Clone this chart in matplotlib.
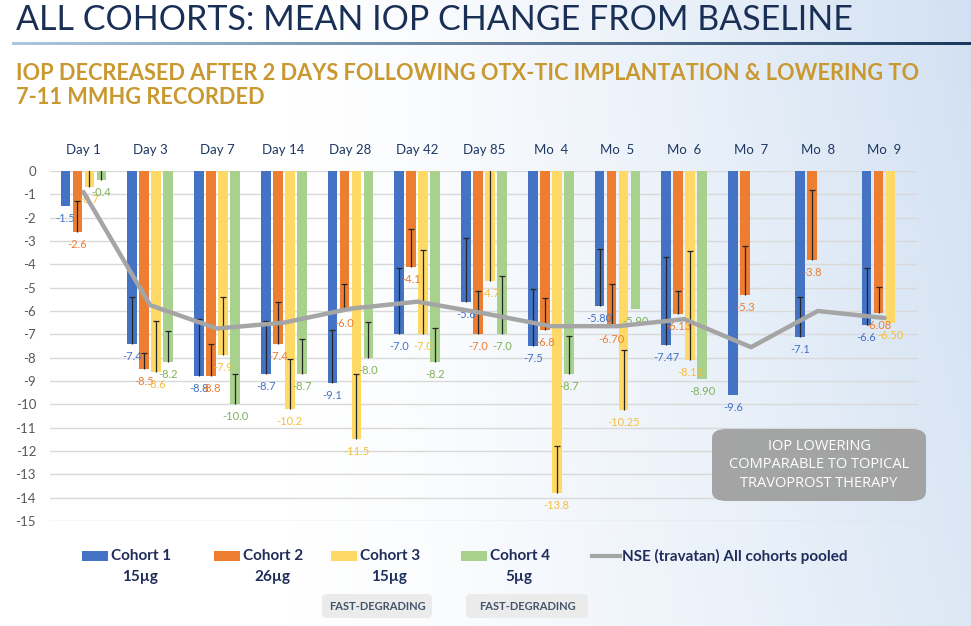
import numpy as np
import matplotlib.pyplot as plt
from matplotlib.patches import Rectangle, FancyBboxPatch
from matplotlib.lines import Line2D

plt.rcParams['axes.unicode_minus'] = False

visits = ['Day 1', 'Day 3', 'Day 7', 'Day 14', 'Day 28', 'Day 42', 'Day 85',
          'Mo  4', 'Mo  5', 'Mo  6', 'Mo  7', 'Mo  8', 'Mo  9']
nan = np.nan

# mean IOP change from baseline (mmHg)
cohort1 = [-1.5, -7.4, -8.8, -8.7, -9.1, -7.0, -5.6, -7.5, -5.80, -7.47, -9.6, -7.1, -6.6]
cohort2 = [-2.6, -8.5, -8.8, -7.4, -6.0, -4.1, -7.0, -6.8, -6.70, -6.13, -5.3, -3.8, -6.08]
cohort3 = [-0.7, -8.6, -7.9, -10.2, -11.5, -7.0, -4.7, -13.8, -10.25, -8.11, nan, nan, -6.50]
cohort4 = [-0.4, -8.2, -10.0, -8.7, -8.0, -8.2, -7.0, -8.7, -5.90, -8.90, nan, nan, nan]

# error bar length (drawn toward zero)
err1 = [0, 2.0, 2.45, 2.27, 2.3, 2.83, 2.74, 2.43, 2.44, 3.8, 0, 1.7, 2.43]
err2 = [1.3, 0.7, 1.4, 1.8, 1.16, 1.6, 1.86, 1.37, 1.84, 1.0, 2.1, 3.0, 1.1]
err3 = [0.8, 2.15, 2.5, 2.15, 2.8, 3.6, 5.0, 2.0, 2.6, 4.7, nan, nan, 0]
err4 = [0.5, 1.35, 1.3, 1.5, 1.54, 1.47, 2.5, 1.64, 0, 0, nan, nan, nan]

lab1 = ['-1.5', '-7.4', '-8.8', '-8.7', '-9.1', '-7.0', '-5.6', '-7.5', '-5.80', '-7.47', '-9.6', '-7.1', '-6.6']
lab2 = ['-2.6', '-8.5', '-8.8', '-7.4', '-6.0', '-4.1', '-7.0', '-6.8', '-6.70', '-6.13', '-5.3', '-3.8', '-6.08']
lab3 = ['-0.7', '-8.6', '-7.9', '-10.2', '-11.5', '-7.0', '-4.7', '-13.8', '-10.25', '-8.11', '', '', '-6.50']
lab4 = ['-0.4', '-8.2', '-10.0', '-8.7', '-8.0', '-8.2', '-7.0', '-8.7', '-5.90', '-8.90', '', '', '']

# NSE (travatan) all cohorts pooled
nse = [-0.9, -5.75, -6.75, -6.5, -5.9, -5.6, -6.1, -6.65, -6.65, -6.35, -7.55, -6.0, -6.3]

names = ['Cohort 1', 'Cohort 2', 'Cohort 3', 'Cohort 4']
doses = ['15µg', '26µg', '15µg', '5µg']
bar_colors = ['#4472C4', '#ED7D31', '#FFD966', '#A9D18E']
text_colors = ['#4472C4', '#ED7D31', '#F5BF3C', '#7FB05A']

W, H = 971, 626
fig = plt.figure(figsize=(W / 100, H / 100), dpi=100)

def fx(px):
    return px / W

def fy(py):
    return 1 - py / H

# background gradient
bg = fig.add_axes([0, 0, 1, 1], zorder=-10)
xx = np.linspace(0, 1, 300)
yy = np.linspace(0, 1, 200)
X, Y = np.meshgrid(xx, yy)
t = np.clip((X - 0.3) / 0.7, 0, 1) ** 1.3 * (0.75 + 0.25 * Y)
c0 = np.array([1.0, 1.0, 1.0])
c1 = np.array([0.82, 0.88, 0.95])
img = c0 + (c1 - c0) * t[..., None]
bg.imshow(img, aspect='auto', extent=[0, 1, 0, 1], origin='lower')
bg.axis('off')

# title + underline
fig.text(fx(16), fy(20), 'ALL COHORTS: MEAN IOP CHANGE FROM BASELINE',
         fontsize=24.5, color='#1A2F55', family='Lato', weight='normal', va='center')
ul = fig.add_axes([fx(12), fy(45), 1 - fx(12), 3 / H])
grad = np.linspace(0, 1, 256)[None, :, None]
ul.imshow(np.array([0.68, 0.78, 0.87]) + (np.array([0.10, 0.22, 0.36]) - np.array([0.68, 0.78, 0.87])) * grad,
          aspect='auto')
ul.axis('off')

fig.text(fx(16), fy(63), 'IOP DECREASED AFTER 2 DAYS FOLLOWING OTX-TIC IMPLANTATION & LOWERING TO\n7-11 MMHG RECORDED',
         fontsize=15.7, color='#C9982F', family='Lato', weight='bold',
         va='top', linespacing=1.15)

# main chart
ax = fig.add_axes([fx(50), fy(521), fx(918) - fx(50), (521 - 171) / H])
ax.patch.set_alpha(0)
x = np.arange(len(visits))
step = 0.18
width = 0.145
series = [cohort1, cohort2, cohort3, cohort4]
errs = [err1, err2, err3, err4]
labs = [lab1, lab2, lab3, lab4]

for i, (vals, er, lb) in enumerate(zip(series, errs, labs)):
    vals = np.array(vals, dtype=float)
    er = np.array(er, dtype=float)
    pos = x + (i - 1.5) * step
    ok = ~np.isnan(vals)
    ax.bar(pos[ok], vals[ok], width, color=bar_colors[i], zorder=2)
    has = ok & (er > 0)
    ax.vlines(pos[has], vals[has], vals[has] + er[has], color='#262626', lw=0.9, zorder=3)
    ax.hlines(vals[has] + er[has], pos[has] - 0.045, pos[has] + 0.045, color='#262626', lw=0.9, zorder=3)
    for p, v, s in zip(pos[ok], vals[ok], np.array(lb)[ok]):
        ax.annotate(s, (p, v), xytext=(0, -9), textcoords='offset points',
                    ha='center', va='center', fontsize=8, color=text_colors[i],
                    family='Lato', zorder=2.5)

ax.plot(x, nse, color='#A5A5A5', lw=3.2, zorder=4, solid_capstyle='round')

ax.set_xlim(-0.5, len(visits) - 0.5)
ax.set_ylim(-15, 0)
ax.set_yticks(range(0, -16, -1))
ax.set_yticklabels([str(v) for v in range(0, -16, -1)])
ax.set_xticks(x)
ax.set_xticklabels(visits)
ax.xaxis.tick_top()
ax.tick_params(axis='x', length=0, pad=11, labelsize=9.5, labelcolor='#1F3864')
ax.tick_params(axis='y', length=0, pad=10, labelsize=9.5, labelcolor='#595959')
for lbl in ax.get_xticklabels() + ax.get_yticklabels():
    lbl.set_family('Lato')
for s in ax.spines.values():
    s.set_visible(False)
ax.grid(axis='y', color='#D9D9D9', lw=1, zorder=0)
ax.set_axisbelow(True)

# callout
box = FancyBboxPatch((fx(712), fy(501)), fx(926) - fx(712), (501 - 429) / H,
                     boxstyle='round,pad=0,rounding_size=0.015', transform=fig.transFigure,
                     facecolor='#A0A0A0', edgecolor='none', alpha=0.95, zorder=5)
fig.add_artist(box)
fig.text(fx(819), fy(465), 'IOP LOWERING\nCOMPARABLE TO TOPICAL\nTRAVOPROST THERAPY',
         ha='center', va='center', fontsize=10.5, color='white', family='Open Sans',
         linespacing=1.35, zorder=6)

# legend
leg_x = [82, 214, 331, 461]
leg_w = 26
for i in range(4):
    fig.add_artist(Rectangle((fx(leg_x[i]), fy(561)), leg_w / W, 10 / H,
                             transform=fig.transFigure, facecolor=bar_colors[i], edgecolor='none'))
    tx = leg_x[i] + leg_w + 3
    fig.text(fx(tx), fy(556), names[i], fontsize=11, family='Lato',
             weight='bold', color='#1F2D5A', va='center')
    fig.text(fx(tx + 29), fy(577), doses[i], fontsize=11, family='Lato',
             weight='bold', color='#1F2D5A', va='center', ha='center')
fig.add_artist(Line2D([fx(592), fx(620)], [fy(556), fy(556)], color='#A5A5A5', lw=3,
                      transform=fig.transFigure))
fig.text(fx(622), fy(556), 'NSE (travatan) All cohorts pooled', fontsize=11,
         family='Lato', weight='bold', color='#1F2D5A', va='center')

for bx0, bx1 in [(322, 432), (466, 588)]:
    fig.add_artist(FancyBboxPatch((fx(bx0), fy(618)), fx(bx1) - fx(bx0), 24 / H,
                                  boxstyle='round,pad=0,rounding_size=0.006',
                                  transform=fig.transFigure, facecolor='#EBEBEB',
                                  edgecolor='none'))
    fig.text(fx((bx0 + bx1) / 2), fy(606), 'FAST-DEGRADING', fontsize=8,
             family='Lato', weight='bold', color='#44546A',
             ha='center', va='center')

fig.savefig('out.png', dpi=100)
